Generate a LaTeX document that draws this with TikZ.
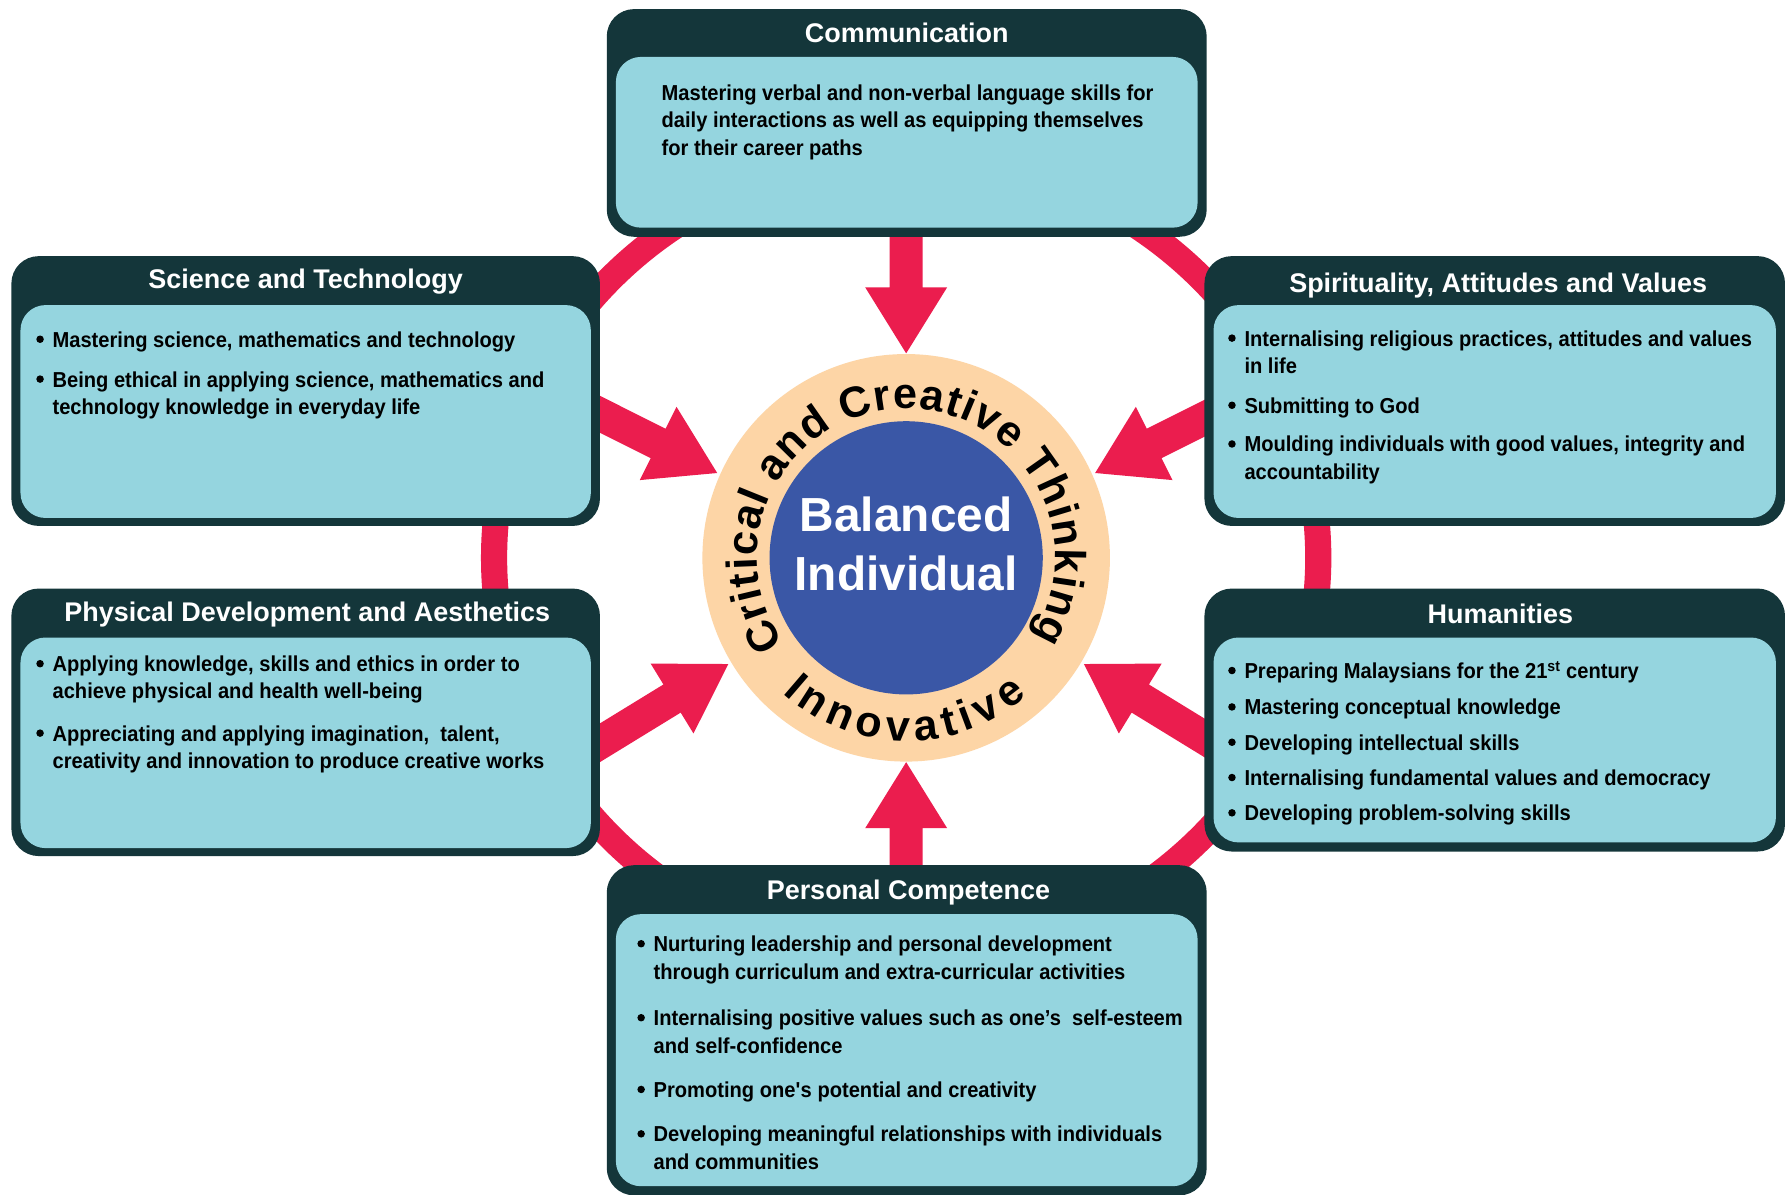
\documentclass[tikz,border=0pt]{standalone}
\usepackage{fontspec}
\setmainfont{Liberation Sans}
\newfontfamily\bodyfam{Liberation Sans}[FakeStretch=0.93]
\usetikzlibrary{calc,decorations.text}
\definecolor{darkc}{HTML}{14363A}
\definecolor{lightc}{HTML}{95D5DF}
\definecolor{redc}{HTML}{EB1D4E}
\definecolor{bluec}{HTML}{3A57A6}
\definecolor{peachc}{HTML}{FDD5A6}
\newcommand{\bul}{\llap{\tikz[baseline=-7pt]\fill (0,0) circle (3.3pt);\hspace{7.7pt}}}
\newcommand{\ringfont}{\bfseries\fontsize{38pt}{40pt}\selectfont}
\newcommand{\redarrow}[3]{%
  \coordinate (#1B) at ($(#3)!58pt!(#2)$);
  \fill[redc] ($(#2)!14.5pt!90:(#3)$) -- ($(#1B)!14.5pt!90:(#3)$) -- ($(#1B)!36pt!90:(#3)$)
    -- (#3) -- ($(#1B)!36pt!-90:(#3)$) -- ($(#1B)!14.5pt!-90:(#3)$) -- ($(#2)!14.5pt!-90:(#3)$) -- cycle;}
\begin{document}
\begin{tikzpicture}[x=1pt,y=1pt,
  outerbox/.style={fill=darkc, rounded corners=24pt, inner sep=0pt, outer sep=0pt},
  innerbox/.style={fill=lightc, rounded corners=22pt, inner sep=0pt, outer sep=0pt},
  boxtitle/.style={anchor=base, inner sep=0pt, text=white, font=\bfseries\fontsize{23.7pt}{28pt}\selectfont},
  bodyline/.style={anchor=base west, inner sep=0pt, text=black, font=\bodyfam\bfseries\fontsize{19pt}{24pt}\selectfont},
  ringline/.style={draw=redc, line width=23pt}]
\fill[white] (0,-1049) rectangle (1568,0);
\useasboundingbox (0,-1049) rectangle (1568,0);
\coordinate (ctr) at (796,-490);
% red ring
\draw[ringline] (ctr) ellipse [x radius=362, y radius=352];
% arrows
\coordinate (tTop) at (796,-190);   \coordinate (hTop) at (796,-310.4);
\coordinate (tBot) at (796,-790);   \coordinate (hBot) at (796,-669.5);
\coordinate (tUL) at (500,-350.4);  \coordinate (hUL) at (630,-415.5);
\coordinate (tLL) at (500,-669);    \coordinate (hLL) at (639.8,-583.3);
\coordinate (tUR) at (1092,-350.4); \coordinate (hUR) at (962,-415.5);
\coordinate (tLR) at (1092,-669);   \coordinate (hLR) at (952.2,-583.3);
\redarrow{aTop}{tTop}{hTop}
\redarrow{aBot}{tBot}{hBot}
\redarrow{aUL}{tUL}{hUL}
\redarrow{aLL}{tLL}{hLL}
\redarrow{aUR}{tUR}{hUR}
\redarrow{aLR}{tLR}{hLR}
% Communication
\node[outerbox, minimum width=527pt, minimum height=200pt] (comm) at (796.5,-108) {};
\node[innerbox, minimum width=511pt, minimum height=150pt] (commIn) at (796.5,-125) {};
\node[boxtitle] (commT) at (796.5,-37) {Communication};
\node[bodyline] (comm1) at (581,-88) {Mastering verbal and non-verbal language skills for};
\node[bodyline] (comm2) at (581,-112) {daily interactions as well as equipping themselves};
\node[bodyline] (comm3) at (581,-137) {for their career paths};
% Science and Technology
\node[outerbox, minimum width=517pt, minimum height=237pt] (sci) at (268.5,-343.5) {};
\node[innerbox, minimum width=501pt, minimum height=187pt] (sciIn) at (268.5,-361.5) {};
\node[boxtitle] (sciT) at (268.5,-253.5) {Science and Technology};
\node[bodyline] (sci1) at (46,-305) {\bul Mastering science, mathematics and technology};
\node[bodyline] (sci2) at (46,-340) {\bul Being ethical in applying science, mathematics and};
\node[bodyline] (sci3) at (46,-364) {technology knowledge in everyday life};
% Spirituality
\node[outerbox, minimum width=510pt, minimum height=237pt] (spi) at (1313,-343.5) {};
\node[innerbox, minimum width=494pt, minimum height=187pt] (spiIn) at (1313,-361.5) {};
\node[boxtitle] (spiT) at (1316,-256.5) {Spirituality, Attitudes and Values};
\node[bodyline] (spi1) at (1093,-304) {\bul Internalising religious practices, attitudes and values};
\node[bodyline] (spi2) at (1093,-328) {in life};
\node[bodyline] (spi3) at (1093,-363) {\bul Submitting to God};
\node[bodyline] (spi4) at (1093,-397) {\bul Moulding individuals with good values, integrity and};
\node[bodyline] (spi5) at (1093,-421) {accountability};
% Physical
\node[outerbox, minimum width=517pt, minimum height=235pt] (phy) at (268.5,-634.5) {};
\node[innerbox, minimum width=501pt, minimum height=185pt] (phyIn) at (268.5,-652.5) {};
\node[boxtitle] (phyT) at (270,-545.5) {Physical Development and Aesthetics};
\node[bodyline] (phy1) at (46,-590) {\bul Applying knowledge, skills and ethics in order to};
\node[bodyline] (phy2) at (46,-614) {achieve physical and health well-being};
\node[bodyline] (phy3) at (46,-651) {\bul Appreciating and applying imagination, \ talent,};
\node[bodyline] (phy4) at (46,-675) {creativity and innovation to produce creative works};
% Humanities
\node[outerbox, minimum width=510pt, minimum height=231pt] (hum) at (1313,-632.5) {};
\node[innerbox, minimum width=494pt, minimum height=180pt] (humIn) at (1313,-650) {};
\node[boxtitle] (humT) at (1318,-547.5) {Humanities};
\node[bodyline] (hum1) at (1093,-596) {\bul Preparing Malaysians for the 21\textsuperscript{st} century};
\node[bodyline] (hum2) at (1093,-628) {\bul Mastering conceptual knowledge};
\node[bodyline] (hum3) at (1093,-659) {\bul Developing intellectual skills};
\node[bodyline] (hum4) at (1093,-690) {\bul Internalising fundamental values and democracy};
\node[bodyline] (hum5) at (1093,-721) {\bul Developing problem-solving skills};
% Personal Competence
\node[outerbox, minimum width=527pt, minimum height=290pt] (per) at (796.5,-905) {};
\node[innerbox, minimum width=511pt, minimum height=239pt] (perIn) at (796.5,-922.5) {};
\node[boxtitle] (perT) at (798,-790.5) {Personal Competence};
\node[bodyline] (per1) at (574,-836) {\bul Nurturing leadership and personal development};
\node[bodyline] (per2) at (574,-860) {through curriculum and extra-curricular activities};
\node[bodyline] (per3) at (574,-901) {\bul Internalising positive values such as one’s \ self-esteem};
\node[bodyline] (per4) at (574,-925) {and self-confidence};
\node[bodyline] (per5) at (574,-964) {\bul Promoting one\textquotesingle s potential and creativity};
\node[bodyline] (per6) at (574,-1003) {\bul Developing meaningful relationships with individuals};
\node[bodyline] (per7) at (574,-1027) {and communities};
% centre
\node[circle, fill=peachc, minimum size=358pt, inner sep=0pt] (ring) at (ctr) {};
\node[circle, fill=bluec, minimum size=240pt, inner sep=0pt] (core) at (ctr) {};
\path[decorate, decoration={text along path, text={|\ringfont|Critical and Creative Thinking}, text align={fit to path}}]
  ($(ctr)+(215:131)$) arc[start angle=215, end angle=-32, radius=131];
\path[decorate, decoration={text along path, text={|\ringfont|Innovative}, text align={fit to path}}]
  ($(ctr)+(-132.5:161)$) arc[start angle=-132.5, end angle=-48.8, radius=161];
\node[anchor=base, inner sep=0pt, text=white, font=\bfseries\fontsize{42pt}{51pt}\selectfont] (bal1) at (796,-467) {Balanced};
\node[anchor=base, inner sep=0pt, text=white, font=\bfseries\fontsize{42pt}{51pt}\selectfont] (bal2) at (796,-518.3) {Individual};
\end{tikzpicture}
\end{document}
